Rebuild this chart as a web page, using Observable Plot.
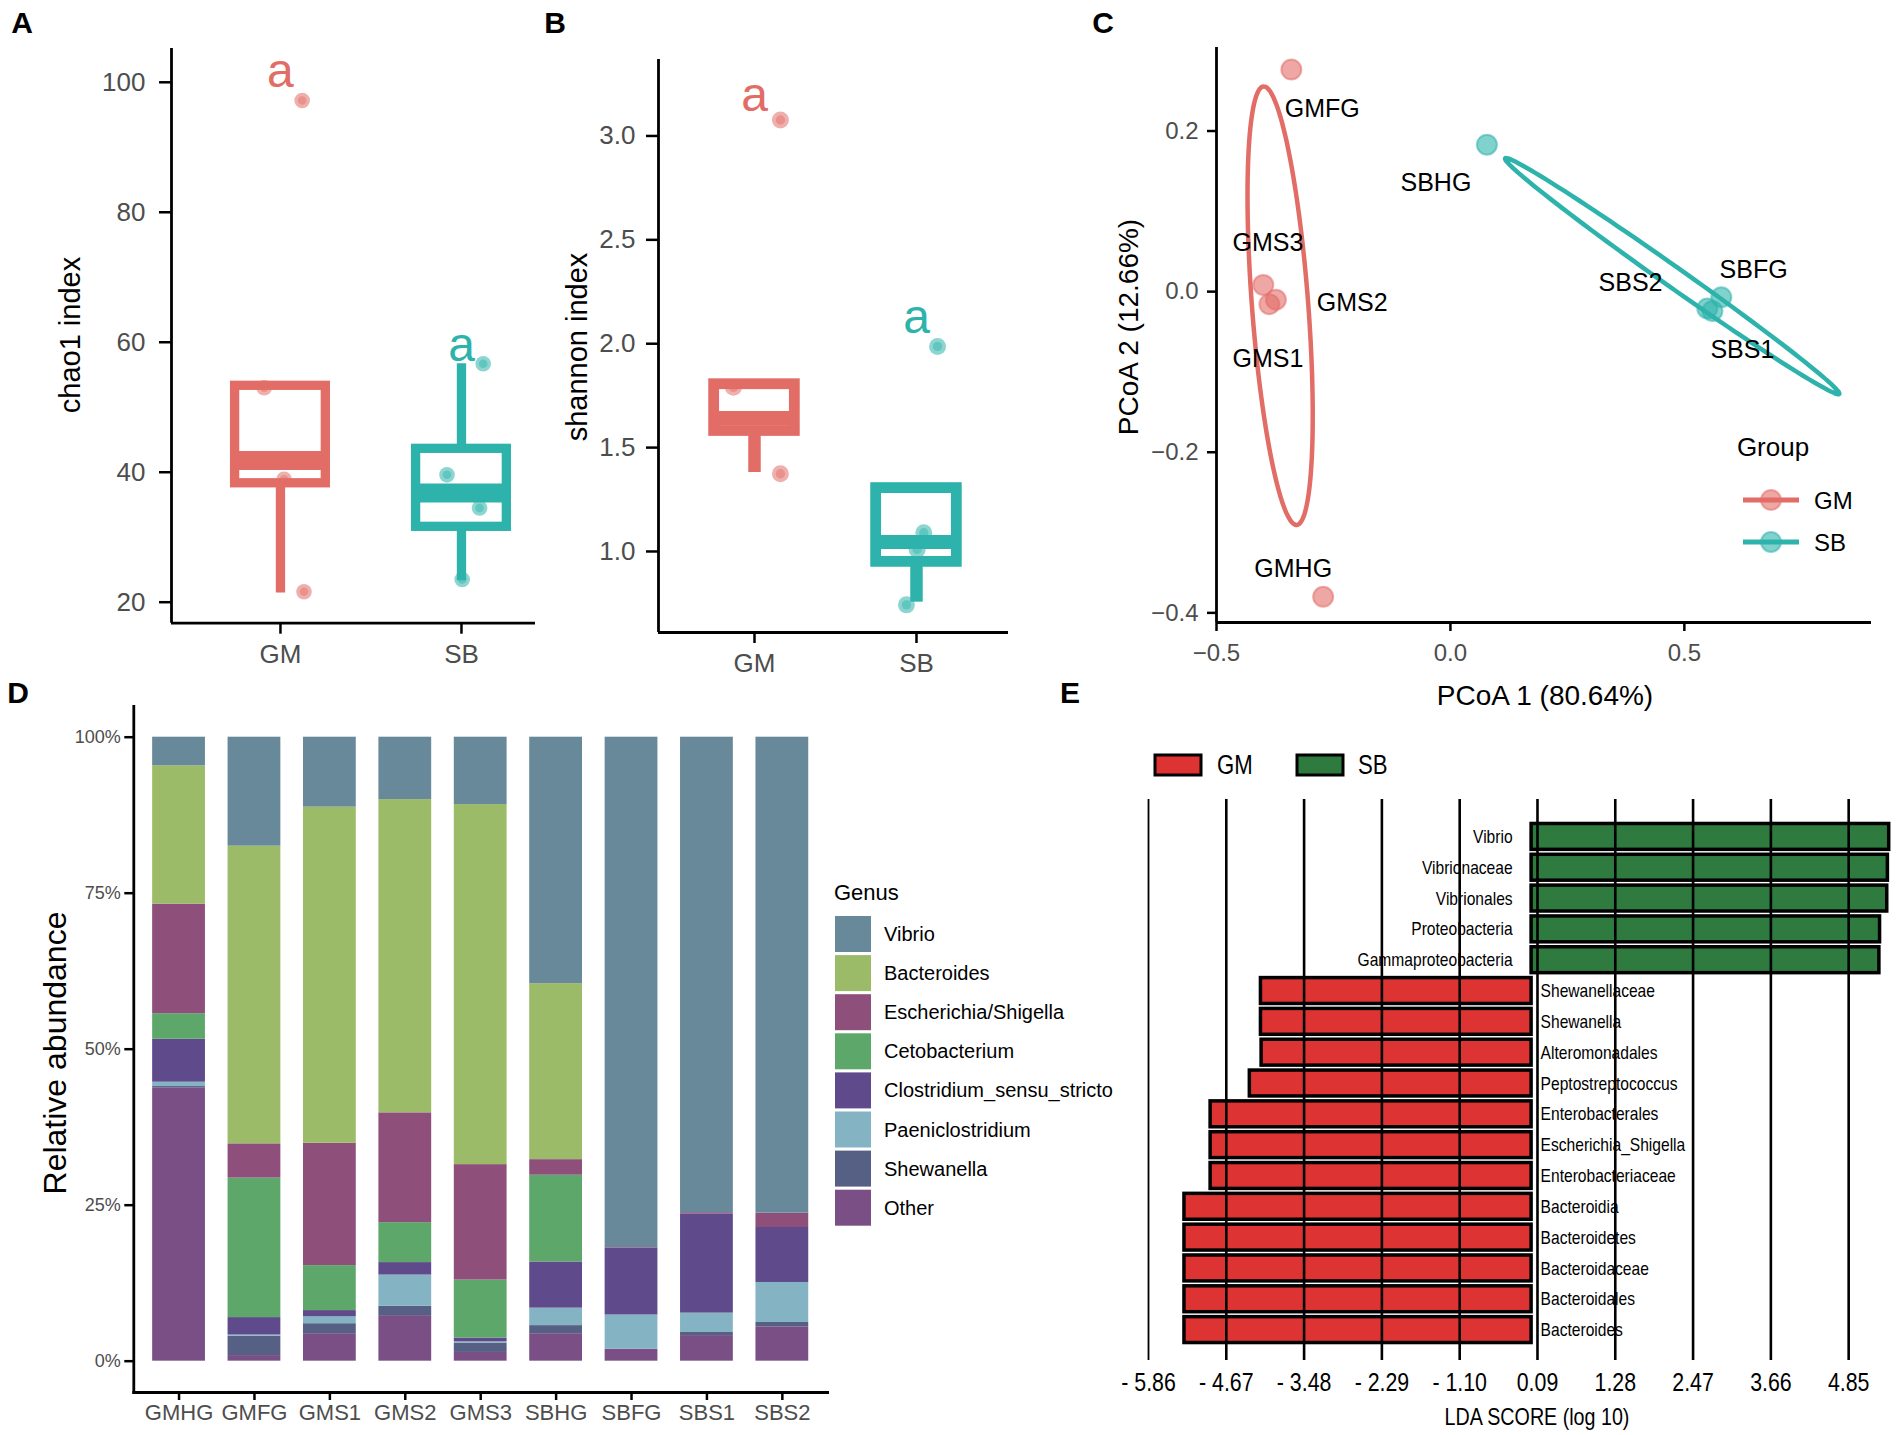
<!DOCTYPE html>
<html><head><meta charset="utf-8">
<script src="https://cdn.jsdelivr.net/npm/d3@7"></script>
<script src="https://cdn.jsdelivr.net/npm/@observablehq/plot@0.6"></script>
<style>
html,body{margin:0;padding:0;background:#fff;}
#fig{position:relative;width:1901px;height:1435px;background:#fff;overflow:hidden;}
#fig svg{position:absolute;}
</style></head>
<body><div id="fig"></div>
<script>
// ================= DATA =================
const groups = ["GM", "SB"];

// Panel A: chao1 index (box summaries per group, jittered points)
const chao1Q1 = [38.3, 31.6];
const chao1Median = [41.8, 36.8];
const chao1Q3 = [53.3, 43.6];
const chao1Low = [21.4, 23.3];
const chao1High = [53.3, 56.7];
const chao1PointGroup = ["GM", "GM", "GM", "GM", "SB", "SB", "SB", "SB"];
const chao1PointValue = [97.2, 53.0, 38.9, 21.6, 56.7, 39.6, 34.5, 23.5];
const chao1Jitter = [0.12, -0.09, 0.02, 0.13, 0.12, -0.08, 0.10, 0.004];
const chao1Letter = ["a", "a"];
const chao1LetterValue = [101.7, 59.5];

// Panel B: shannon index
const shannonQ1 = [1.58, 0.95];
const shannonMedian = [1.642, 1.045];
const shannonQ3 = [1.805, 1.305];
const shannonLow = [1.38, 0.756];
const shannonHigh = [1.805, 1.305];
const shannonPointGroup = ["GM", "GM", "GM", "SB", "SB", "SB", "SB"];
const shannonPointValue = [3.077, 1.79, 1.374, 1.987, 1.09, 1.01, 0.743];
const shannonJitter = [0.16, -0.13, 0.16, 0.13, 0.045, 0.004, -0.062];
const shannonLetter = ["a", "a"];
const shannonLetterValue = [3.195, 2.126];

// Panel C: PCoA
const pcoaSample = ["GMFG", "GMS3", "GMS2", "GMS1", "GMHG", "SBHG", "SBFG", "SBS2", "SBS1"];
const pcoaGroup = ["GM", "GM", "GM", "GM", "GM", "SB", "SB", "SB", "SB"];
const pcoa1 = [-0.340, -0.400, -0.373, -0.387, -0.272, 0.078, 0.579, 0.549, 0.560];
const pcoa2 = [0.2765, 0.0084, -0.010, -0.0156, -0.380, 0.183, -0.007, -0.021, -0.024];
const pcoaLabel1 = [-0.274, -0.39, -0.21, -0.39, -0.336, -0.031, 0.648, 0.385, 0.624];
const pcoaLabel2 = [0.228, 0.060, -0.014, -0.084, -0.345, 0.135, 0.027, 0.011, -0.073];
// confidence ellipses (center and conjugate semi-axes, data units)
const ellipseGroup = ["GM", "SB"];
const ellipseCx = [-0.364, 0.474];
const ellipseCy = [-0.0175, 0.0193];
const ellipseMajorX = [-0.0355, 0.357];
const ellipseMajorY = [0.273, -0.1467];
const ellipseMinorX = [0.060, -0.0123];
const ellipseMinorY = [0.0026, -0.0102];

// Panel D: relative abundance (%)
const samples = ["GMHG", "GMFG", "GMS1", "GMS2", "GMS3", "SBHG", "SBFG", "SBS1", "SBS2"];
const genera = ["Vibrio", "Bacteroides", "Escherichia/Shigella", "Cetobacterium", "Clostridium_sensu_stricto", "Paeniclostridium", "Shewanella", "Other"];
const vibrio = [4.6, 17.5, 11.2, 10.0, 10.8, 39.5, 81.8, 76.2, 76.2];
const bacteroides = [22.2, 47.8, 53.8, 50.2, 57.7, 28.2, 0, 0, 0];
const escherichia = [17.6, 5.5, 19.6, 17.6, 18.5, 2.5, 0.1, 0.2, 2.3];
const cetobacterium = [4.1, 22.4, 7.2, 6.4, 9.3, 13.9, 0, 0, 0];
const clostridium = [6.9, 2.8, 1.0, 2.0, 0.6, 7.4, 10.7, 15.9, 8.8];
const paeniclostridium = [0.7, 0.2, 1.1, 5.0, 0.2, 2.8, 5.5, 3.1, 6.4];
const shewanella = [0.2, 3.1, 1.6, 1.5, 1.5, 1.3, 0, 0.5, 0.7];
const other = [43.9, 0.9, 4.4, 7.3, 1.4, 4.4, 1.9, 4.1, 5.5];
const percentTicks = [0, 0.25, 0.5, 0.75, 1];

// Panel E: LEfSe LDA scores
const ldaTaxa = ["Vibrio", "Vibrionaceae", "Vibrionales", "Proteobacteria", "Gammaproteobacteria",
  "Shewanellaceae", "Shewanella", "Alteromonadales", "Peptostreptococcus", "Enterobacterales",
  "Escherichia_Shigella", "Enterobacteriaceae", "Bacteroidia", "Bacteroidetes", "Bacteroidaceae",
  "Bacteroidales", "Bacteroides"];
const ldaGroup = ["SB", "SB", "SB", "SB", "SB", "GM", "GM", "GM", "GM", "GM", "GM", "GM", "GM", "GM", "GM", "GM", "GM"];
const ldaScore = [5.47, 5.45, 5.44, 5.33, 5.32, -4.14, -4.14, -4.13, -4.31, -4.91, -4.91, -4.91, -5.31, -5.31, -5.31, -5.31, -5.31];
const ldaTicks = [-5.86, -4.67, -3.48, -2.29, -1.10, 0.09, 1.28, 2.47, 3.66, 4.85];

// ================= STYLE =================
const RED = "#E26D67", TEAL = "#2DB3AB";
const genusColors = ["#67899A", "#9BBB68", "#8E4F7B", "#5DA76A", "#5F4A8B", "#84B3C4", "#565F84", "#7A4F86"];
const LDA_RED = "#DE3333", LDA_GREEN = "#2F7A3F";
const SANS = "'Liberation Sans', Arial, Helvetica, sans-serif";
const NARROW_SQUEEZE = 0.82; // Arial-Narrow look from Liberation Sans
const W = 1901, H = 1435;
const fig = document.getElementById("fig");
function place(el, left, top) { el.style.left = left + "px"; el.style.top = top + "px"; fig.appendChild(el); return el; }
function squeeze(node, f) {
  node.querySelectorAll("text").forEach(t => {
    const len = t.getComputedTextLength();
    if (len > 0) { t.setAttribute("textLength", len * f); t.setAttribute("lengthAdjust", "spacingAndGlyphs"); }
  });
}

// ================= BOX PANELS (A, B) =================
function boxPanel(o) {
  const boxes = groups.map((g, i) => ({g, x: i + 1, q1: o.q1[i], med: o.med[i], q3: o.q3[i], lo: o.lo[i], hi: o.hi[i]}));
  const pts = o.pg.map((g, i) => ({g, x: groups.indexOf(g) + 1 + o.jit[i], v: o.pv[i]}));
  const letters = groups.map((g, i) => ({g, x: i + 1, v: o.letterV[i], t: o.letter[i]}));
  const h = o.boxHalf;
  return Plot.plot({
    width: o.width, height: o.height,
    marginLeft: o.ml, marginRight: o.mr, marginTop: o.mt, marginBottom: o.mb,
    x: {domain: o.xDomain}, y: {domain: o.yDomain},
    color: {domain: groups, range: [RED, TEAL]},
    style: {fontFamily: SANS, background: "transparent", overflow: "visible"},
    marks: [
      Plot.ruleX(boxes, {x: "x", y1: "lo", y2: "q1", stroke: "g", strokeWidth: o.whisker}),
      Plot.ruleX(boxes.filter(d => d.hi > d.q3), {x: "x", y1: "q3", y2: "hi", stroke: "g", strokeWidth: o.whisker}),
      Plot.rect(boxes, {x1: d => d.x - h, x2: d => d.x + h, y1: "q1", y2: "q3", fill: "white", stroke: "g", strokeWidth: o.boxStroke}),
      Plot.ruleY(boxes, {y: "med", x1: d => d.x - h, x2: d => d.x + h, stroke: "g", strokeWidth: o.medStroke}),
      Plot.dot(pts, {x: "x", y: "v", r: o.r, fill: "g", fillOpacity: 0.55}),
      Plot.dot(pts, {x: "x", y: "v", r: o.r * 0.55, fill: "g", fillOpacity: 0.45}),
      Plot.text(letters, {x: "x", y: "v", text: "t", fill: "g", fontSize: 48, lineAnchor: "middle"}),
      Plot.ruleX([o.xDomain[0]], {stroke: "black", strokeWidth: 2.8}),
      Plot.ruleY([o.yDomain[0]], {stroke: "black", strokeWidth: 2.8}),
      Plot.axisY({ticks: o.ticks, tickFormat: o.fmt, tickSize: 12, tickPadding: o.yPad, fontSize: 26, fill: "#4D4D4D", stroke: "black", strokeWidth: 2.5, label: null}),
      Plot.axisX({ticks: [1, 2], tickFormat: d => groups[d - 1], tickSize: 11, tickPadding: 10, fontSize: 26, fill: "#4D4D4D", stroke: "black", strokeWidth: 2.5, label: null})
    ]
  });
}

place(boxPanel({
  width: 560, height: 680, ml: 171, mr: 25, mt: 48, mb: 57.3,
  xDomain: [0.398, 2.409], yDomain: [16.77, 105.2],
  q1: chao1Q1, med: chao1Median, q3: chao1Q3, lo: chao1Low, hi: chao1High,
  pg: chao1PointGroup, pv: chao1PointValue, jit: chao1Jitter,
  letter: chao1Letter, letterV: chao1LetterValue,
  boxHalf: 0.2506, boxStroke: 9.3, whisker: 9.3, medStroke: 19, r: 7.8, yPad: 14,
  ticks: [20, 40, 60, 80, 100], fmt: d => String(d)
}), 0, 0);

place(boxPanel({
  width: 470, height: 680, ml: 98, mr: 22, mt: 59, mb: 48,
  xDomain: [0.4074, 2.568], yDomain: [0.61, 3.368],
  q1: shannonQ1, med: shannonMedian, q3: shannonQ3, lo: shannonLow, hi: shannonHigh,
  pg: shannonPointGroup, pv: shannonPointValue, jit: shannonJitter,
  letter: shannonLetter, letterV: shannonLetterValue,
  boxHalf: 0.249, boxStroke: 10.8, whisker: 12.5, medStroke: 14, r: 8.5, yPad: 11,
  ticks: [1, 1.5, 2, 2.5, 3], fmt: d => d.toFixed(1)
}), 560, 0);

// ================= PANEL C =================
const pcoaData = pcoaSample.map((s, i) => ({s, g: pcoaGroup[i], x: pcoa1[i], y: pcoa2[i], lx: pcoaLabel1[i], ly: pcoaLabel2[i]}));
const ellipsePts = [];
ellipseGroup.forEach((g, k) => {
  for (let a = 0; a <= 360; a += 3) {
    const t = a * Math.PI / 180;
    ellipsePts.push({g,
      x: ellipseCx[k] + ellipseMajorX[k] * Math.cos(t) + ellipseMinorX[k] * Math.sin(t),
      y: ellipseCy[k] + ellipseMajorY[k] * Math.cos(t) + ellipseMinorY[k] * Math.sin(t)});
  }
});
const minusFmt = d => (d < 0 ? "\u2212" : "") + Math.abs(d).toFixed(1);
place(Plot.plot({
  width: 801, height: 700, marginLeft: 116, marginRight: 30, marginTop: 47, marginBottom: 78,
  x: {domain: [-0.5, 0.9]}, y: {domain: [-0.412, 0.304]},
  color: {domain: groups, range: [RED, TEAL]},
  style: {fontFamily: SANS, background: "transparent", overflow: "visible"},
  marks: [
    Plot.line(ellipsePts, {x: "x", y: "y", z: "g", stroke: "g", strokeWidth: 4.5, curve: "catmull-rom"}),
    Plot.dot(pcoaData, {x: "x", y: "y", r: 10, fill: "g", fillOpacity: 0.6, stroke: "g", strokeOpacity: 0.55, strokeWidth: 2}),
    Plot.text(pcoaData, {x: "lx", y: "ly", text: "s", fontSize: 25, fill: "black", lineAnchor: "middle"}),
    Plot.ruleX([-0.5], {stroke: "black", strokeWidth: 2.8}),
    Plot.ruleY([-0.412], {stroke: "black", strokeWidth: 2.8}),
    Plot.axisY({ticks: [-0.4, -0.2, 0, 0.2], tickFormat: minusFmt, tickSize: 9, tickPadding: 9, fontSize: 24, fill: "#4D4D4D", stroke: "black", strokeWidth: 2.5, label: null}),
    Plot.axisX({ticks: [-0.5, 0, 0.5], tickFormat: minusFmt, tickSize: 9, tickPadding: 12, fontSize: 24, fill: "#4D4D4D", stroke: "black", strokeWidth: 2.5, label: null})
  ]
}), 1100, 0);

// ================= PANEL D =================
const genusValues = [vibrio, bacteroides, escherichia, cetobacterium, clostridium, paeniclostridium, shewanella, other];
const abundance = [];
for (let k = genera.length - 1; k >= 0; k--) {
  samples.forEach((s, i) => abundance.push({sample: s, genus: genera[k], value: genusValues[k][i]}));
}
place(Plot.plot({
  width: 830, height: 745, marginLeft: 133.3, marginRight: 2.9, marginTop: 16, marginBottom: 43,
  x: {domain: samples, paddingInner: 0.3, paddingOuter: 0.25, round: false},
  y: {domain: [-0.0502, 1.0492]},
  color: {domain: genera, range: genusColors},
  style: {fontFamily: SANS, background: "transparent", overflow: "visible"},
  marks: [
    Plot.barY(abundance, Plot.stackY({offset: "normalize"}, {x: "sample", y: "value", fill: "genus", inset: 0})),
    Plot.axisY({ticks: percentTicks, tickFormat: d => Math.round(d * 100) + "%", tickSize: 9, tickPadding: 4, fontSize: 18, fill: "#4D4D4D", stroke: "black", strokeWidth: 2.5, label: null}),
    Plot.axisX({tickSize: 8, tickPadding: 4, fontSize: 22, fill: "#4D4D4D", stroke: "black", strokeWidth: 2.5, label: null}),
    Plot.frame({anchor: "left", stroke: "black", strokeWidth: 2.8}),
    Plot.frame({anchor: "bottom", stroke: "black", strokeWidth: 2.8})
  ]
}), 0, 690);

// ================= PANEL E =================
const lda = ldaTaxa.map((t, i) => ({t, g: ldaGroup[i], s: ldaScore[i]}));
const ldaFmt = d => d < 0 ? "- " + Math.abs(d).toFixed(2) : d.toFixed(2);
const panelE = place(Plot.plot({
  width: 831, height: 735, marginLeft: 78, marginRight: 3.8, marginTop: 99, marginBottom: 75,
  x: {domain: [-5.86, 5.6]},
  y: {domain: ldaTaxa, range: [121, 645], paddingInner: 0.16, paddingOuter: 0.08, round: false, axis: null},
  color: {domain: groups, range: [LDA_RED, LDA_GREEN]},
  style: {fontFamily: SANS, background: "transparent", overflow: "visible"},
  marks: [
    Plot.barX(lda, {x1: d => 0, x2: "s", y: "t", fill: "g", stroke: "black", strokeWidth: 3.5}),
    Plot.text(lda.filter(d => d.g === "SB"), {x: d => 0, y: "t", text: "t", textAnchor: "end", dx: -19, fontSize: 19, fill: "black"}),
    Plot.text(lda.filter(d => d.g === "GM"), {x: d => 0, y: "t", text: "t", textAnchor: "start", dx: 9, fontSize: 19, fill: "black"}),
    Plot.ruleX(ldaTicks.slice(1), {stroke: "black", strokeWidth: 2.6}),
    Plot.ruleX(ldaTicks.slice(0, 1), {stroke: "black", strokeWidth: 1.8}),
    Plot.axisX({ticks: ldaTicks, tickFormat: ldaFmt, tickSize: 0, tickPadding: 12, fontSize: 26, fill: "black", label: null})
  ]
}), 1070, 700);
squeeze(panelE, NARROW_SQUEEZE);

// ================= ANNOTATIONS (titles, panel letters, legends) =================
const ov = d3.create("svg").attr("width", W).attr("height", H).style("left", "0px").style("top", "0px").style("pointer-events", "none");
fig.appendChild(ov.node());
function txt(x, y, s, o = {}) {
  const el = ov.append("text")
    .attr("transform", `translate(${x},${y}) rotate(${o.rotate || 0})`)
    .attr("text-anchor", o.anchor || "middle")
    .attr("dominant-baseline", "central")
    .attr("font-family", SANS)
    .attr("font-size", o.size || 24)
    .attr("font-weight", o.weight || "normal")
    .attr("fill", o.fill || "#000")
    .text(s);
  if (o.squeeze) {
    const len = el.node().getComputedTextLength();
    el.attr("textLength", len * o.squeeze).attr("lengthAdjust", "spacingAndGlyphs");
  }
  return el;
}
// panel letters
[["A", 22, 22], ["B", 555, 22], ["C", 1103, 22], ["D", 18, 692], ["E", 1070, 692]].forEach(([l, x, y]) => txt(x, y, l, {size: 30, weight: "bold"}));
// axis titles
txt(69.5, 335, "chao1 index", {rotate: -90, size: 29});
txt(577, 347, "shannon index", {rotate: -90, size: 29});
txt(1128, 327, "PCoA 2 (12.66%)", {rotate: -90, size: 28});
txt(1545, 695, "PCoA 1 (80.64%)", {size: 28});
txt(55, 1053, "Relative abundance", {rotate: -90, size: 32});
txt(1537, 1416, "LDA SCORE (log 10)", {size: 24, squeeze: NARROW_SQUEEZE});

// Panel C legend
txt(1773, 447, "Group", {size: 26});
[["GM", RED, 500], ["SB", TEAL, 542]].forEach(([g, c, y]) => {
  ov.append("line").attr("x1", 1743).attr("x2", 1799).attr("y1", y).attr("y2", y).attr("stroke", c).attr("stroke-width", 5);
  ov.append("circle").attr("cx", 1771).attr("cy", y).attr("r", 10).attr("fill", c).attr("fill-opacity", 0.6).attr("stroke", c).attr("stroke-opacity", 0.55).attr("stroke-width", 2);
  txt(1814, y, g, {anchor: "start", size: 24});
});

// Panel D legend
txt(834, 892, "Genus", {anchor: "start", size: 22});
genera.forEach((g, i) => {
  const cy = 934 + 39.1 * i;
  ov.append("rect").attr("x", 835).attr("y", cy - 18).attr("width", 36).attr("height", 36).attr("fill", genusColors[i]);
  txt(884, cy, g, {anchor: "start", size: 20});
});

// Panel E legend
[["GM", LDA_RED, 1155, 1217], ["SB", LDA_GREEN, 1297, 1358]].forEach(([g, c, x, tx]) => {
  ov.append("rect").attr("x", x).attr("y", 755).attr("width", 46).attr("height", 20).attr("fill", c).attr("stroke", "black").attr("stroke-width", 3);
  txt(tx, 765, g, {anchor: "start", size: 27, squeeze: NARROW_SQUEEZE});
});
</script>
</body></html>
